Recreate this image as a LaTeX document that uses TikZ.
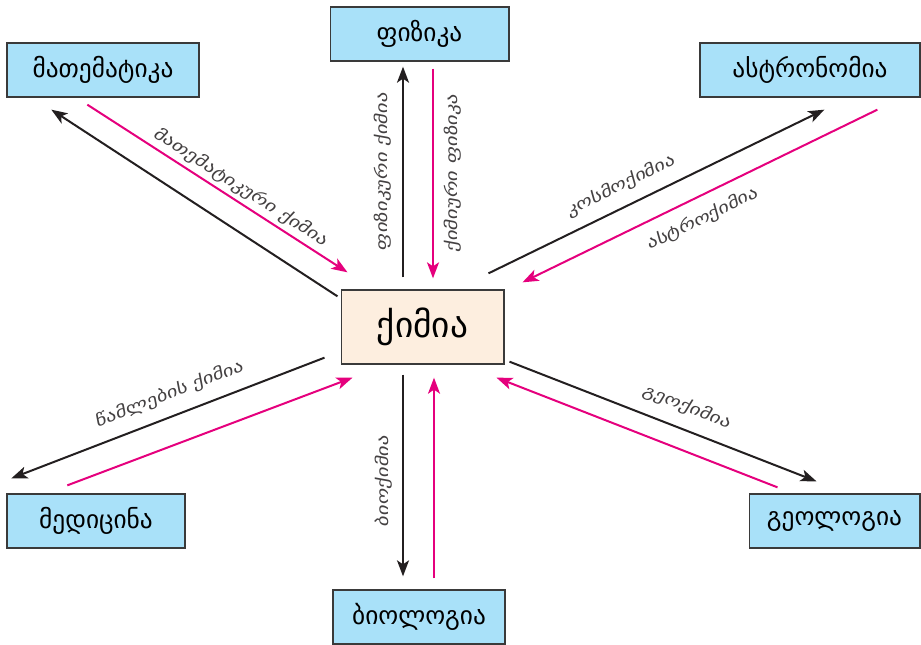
\documentclass[tikz,border=0pt]{standalone}
\usepackage{fontspec}
\usepackage{xcolor}
\usepackage{tikz}
\usetikzlibrary{arrows.meta}
\newfontfamily\geofont{DejaVu Sans}
\newfontfamily\geoslant{DejaVu Sans}[FakeSlant=0.18, FakeStretch=1.3]
\definecolor{fieldblue}{HTML}{A9E1F9}
\definecolor{chempeach}{HTML}{FDEEDF}
\definecolor{linkpink}{HTML}{E5007D}
\definecolor{linkblack}{HTML}{231F20}
\definecolor{boxedge}{HTML}{3A3A3A}

\begin{document}
\begin{tikzpicture}[x=0.75pt, y=-0.75pt,
  field/.style={draw=boxedge, line width=1pt, fill=fieldblue, minimum height=40.5pt,
    inner sep=0pt, font=\geofont\fontsize{19}{22}\selectfont},
  chembox/.style={draw=boxedge, line width=1pt, fill=chempeach, minimum width=122pt,
    minimum height=55.5pt, inner sep=0pt, font=\geofont\fontsize{26.5}{30}\selectfont},
  tofield/.style={linkblack, line width=1.5pt, -{Stealth[length=12pt,width=9pt,inset=3pt]}},
  fromfield/.style={linkpink, line width=1.5pt, -{Stealth[length=12pt,width=9pt,inset=3pt]}},
  tag/.style={text=linkblack!85, font=\geoslant\fontsize{12}{14}\selectfont, inner sep=3pt}]
\useasboundingbox (0,0) rectangle (921,644);

% chemistry in the middle, neighbouring sciences around it
\node[chembox] (chem) at (422.5,327) {ქიმია};
\node[field, minimum width=134pt] (phys) at (419.5,34) {ფიზიკა};
\node[field, minimum width=144pt] (math) at (103,70) {მათემატიკა};
\node[field, minimum width=165pt] (astro) at (810,70) {ასტრონომია};
\node[field, minimum width=133.5pt] (med) at (96,521) {მედიცინა};
\node[field, minimum width=129pt] (bio) at (419,617) {ბიოლოგია};
\node[field, minimum width=128pt] (geo) at (834.5,521) {გეოლოგია};

% arrow ends, offset from the box corners
\coordinate (mathA) at ([shift={(-3,7)}]chem.north west);
\coordinate (mathB) at ([shift={(45,12)}]math.south west);
\coordinate (mathC) at ([shift={(81,7)}]math.south west);
\coordinate (mathD) at ([shift={(7,-17)}]chem.north west);
\coordinate (physA) at ([shift={(-19.5,-12)}]chem.north);
\coordinate (physB) at ([shift={(-16.5,5)}]phys.south);
\coordinate (physC) at ([shift={(13.5,7)}]phys.south);
\coordinate (physD) at ([shift={(10.5,-11)}]chem.north);
\coordinate (astroA) at ([shift={(-16,-16)}]chem.north east);
\coordinate (astroB) at ([shift={(125,12)}]astro.south west);
\coordinate (astroC) at ([shift={(178,12)}]astro.south west);
\coordinate (astroD) at ([shift={(18,-7)}]chem.north east);
\coordinate (medA) at ([shift={(-16,-7)}]chem.south west);
\coordinate (medB) at ([shift={(5,-15)}]med.north west);
\coordinate (medC) at ([shift={(61,-8)}]med.north west);
\coordinate (medD) at ([shift={(12,13)}]chem.south west);
\coordinate (bioA) at ([shift={(-19.5,10)}]chem.south);
\coordinate (bioB) at ([shift={(-16,-13)}]bio.north);
\coordinate (bioC) at ([shift={(15,-11)}]bio.north);
\coordinate (bioD) at ([shift={(11.5,13)}]chem.south);
\coordinate (geoA) at ([shift={(5,-3)}]chem.south east);
\coordinate (geoB) at ([shift={(68,-12)}]geo.north west);
\coordinate (geoC) at ([shift={(29,-6)}]geo.north west);
\coordinate (geoD) at ([shift={(-8,13)}]chem.south east);

% black: from chemistry outwards, pink: back into chemistry
\draw[tofield] (mathA) -- (mathB);
\draw[fromfield] (mathC) -- node[tag, sloped, above, pos=0.56] {მათემატიკური ქიმია} (mathD);
\draw[tofield] (physA) -- node[tag, inner sep=8pt, sloped, above, pos=0.5] {ფიზიკური ქიმია} (physB);
\draw[fromfield] (physC) -- node[tag, inner sep=7.5pt, rotate=90, anchor=north, pos=0.5] {ქიმიური ფიზიკა} (physD);
\draw[tofield] (astroA) -- node[tag, inner sep=8.5pt, sloped, above, pos=0.42] {კოსმოქიმია} (astroB);
\draw[fromfield] (astroC) -- node[tag, inner sep=9pt, sloped, below, pos=0.52] {ასტროქიმია} (astroD);
\draw[tofield] (medA) -- node[tag, inner sep=9pt, sloped, above, pos=0.47] {წამლების ქიმია} (medB);
\draw[fromfield] (medC) -- (medD);
\draw[tofield] (bioA) -- node[tag, inner sep=7pt, rotate=90, anchor=south, pos=0.53] {ბიოქიმია} (bioB);
\draw[fromfield] (bioC) -- (bioD);
\draw[tofield] (geoA) -- node[tag, inner sep=9.5pt, sloped, above, pos=0.55] {გეოქიმია} (geoB);
\draw[fromfield] (geoC) -- (geoD);
\end{tikzpicture}
\end{document}
